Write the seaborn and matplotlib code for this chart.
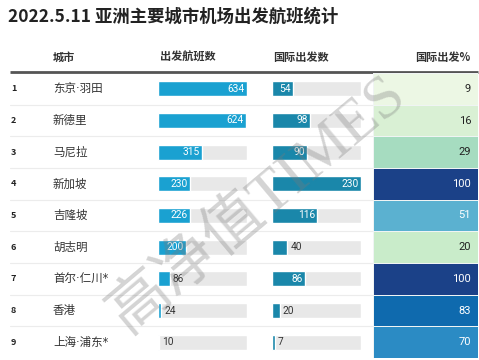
import numpy as np
import pandas as pd
import matplotlib
matplotlib.use("Agg")
import matplotlib.pyplot as plt
from matplotlib.colors import LinearSegmentedColormap
import seaborn as sns

title = "2022.5.11 亚洲主要城市机场出发航班统计"
headers = ["城市", "出发航班数", "国际出发数", "国际出发%"]
ranks = [1, 2, 3, 4, 5, 6, 7, 8, 9]
cities = ["东京·羽田", "新德里", "马尼拉", "新加坡", "吉隆坡", "胡志明", "首尔·仁川*", "香港", "上海·浦东*"]
departures = [634, 624, 315, 230, 226, 200, 86, 24, 10]
intl_departures = [54, 98, 90, 230, 116, 40, 86, 20, 7]
intl_pct = [9, 16, 29, 100, 51, 20, 100, 83, 70]

df = pd.DataFrame({"rank": ranks, "city": cities, "dep": departures,
                   "intl": intl_departures, "pct": intl_pct})

sns.set_theme(style="white")
plt.rcParams["font.family"] = ["Noto Sans CJK SC", "DejaVu Sans"]

W, H = 479, 360
fig = plt.figure(figsize=(W / 100, H / 100), dpi=100)
fig.patch.set_facecolor("white")

top, bottom = 73, 358
row_h = (bottom - top) / len(df)

def box(x0, x1):
    return [x0 / W, 1 - bottom / H, (x1 - x0) / W, (bottom - top) / H]

# background axes in pixel coordinates for text and rules
bg = fig.add_axes([0, 0, 1, 1])
bg.set_xlim(0, W)
bg.set_ylim(H, 0)
bg.axis("off")

bg.text(8, 17, title, fontsize=12.5, fontweight="bold", color="#222222", va="center")
bg.text(53, 57, headers[0], fontsize=8, fontweight="bold", color="#333333", va="center")
bg.text(160, 57, headers[1], fontsize=8, fontweight="bold", color="#333333", va="center")
bg.text(273, 57, headers[2], fontsize=8, fontweight="bold", color="#333333", va="center")
bg.text(470, 57, headers[3], fontsize=8, fontweight="bold", color="#333333", va="center", ha="right")
bg.plot([10, 478], [71.5, 71.5], color="#555555", lw=2, solid_capstyle="butt")

for i, row in df.iterrows():
    yc = top + (i + 0.5) * row_h
    bg.text(11, yc, str(row["rank"]), fontsize=6.5, fontweight="bold", color="#222222", va="center")
    # DejaVu first so the middle dot stays narrow; CJK glyphs fall back to Noto
    bg.text(53, yc, row["city"], fontsize=8.3, color="#333333", va="center",
            family=["DejaVu Sans", "Noto Sans CJK SC"])
    if i < len(df) - 1:
        bg.plot([10, 373], [top + (i + 1) * row_h] * 2, color="#ececec", lw=0.8)

# bar columns
def bar_column(x0, x1, col, color):
    ax = fig.add_axes(box(x0, x1))
    vmax = df[col].max()
    sns.barplot(x=[vmax] * len(df), y=df["city"], color="#e8e8e8", width=0.47,
                orient="h", ax=ax, saturation=1)
    sns.barplot(data=df, x=col, y="city", color=color, width=0.47,
                orient="h", ax=ax, saturation=1)
    ax.set_xlim(0, vmax)
    ax.set_ylim(len(df) - 0.5, -0.5)
    ax.axis("off")
    for i, v in enumerate(df[col]):
        if v / vmax * (x1 - x0) > 18:
            ax.annotate(str(v), (v, i), xytext=(-1.5, 0), textcoords="offset points",
                        ha="right", va="center", fontsize=7.3, color="white", family=["Roboto"])
        else:
            ax.annotate(str(v), (v, i), xytext=(2, 0), textcoords="offset points",
                        ha="left", va="center", fontsize=7.3, color="#333333", family=["Roboto"])
    return ax

bar_column(158, 247, "dep", "#1aa1d1")
bar_column(272, 361, "intl", "#1a87aa")

# percentage column as heatmap
cmap = LinearSegmentedColormap.from_list("pct", [
    (0.0, "#f7fcf0"), (0.09, "#ecf7e4"), (0.16, "#d8f0d3"), (0.20, "#c9ecca"),
    (0.29, "#a6dcc0"), (0.51, "#5bb1d0"), (0.70, "#2b8cc4"), (0.83, "#0f6aae"),
    (1.0, "#1b4188")])
axh = fig.add_axes(box(373, 478))
sns.heatmap(df[["pct"]].to_numpy(), cmap=cmap, vmin=0, vmax=100, cbar=False,
            annot=True, fmt="d", linewidths=0.4, linecolor="#f0f4f4", ax=axh,
            annot_kws={"fontsize": 8, "family": ["Roboto"]})
axh.axis("off")
for t, v in zip(axh.texts, df["pct"]):
    t.set_ha("right")
    t.set_x(0.935)
    t.set_color("white" if v > 40 else "#222222")

# watermark on top of everything
wm = fig.add_axes([0, 0, 1, 1])
wm.set_xlim(0, W)
wm.set_ylim(H, 0)
wm.axis("off")
wm.patch.set_alpha(0)
wm.text(258, 205, "高净值TIMES", fontsize=44, color="#7a7a7a", alpha=0.32,
        rotation=40, ha="center", va="center", fontweight="light",
        family=["Liberation Serif", "Noto Sans CJK SC"])

fig.savefig("out.png", dpi=100)
